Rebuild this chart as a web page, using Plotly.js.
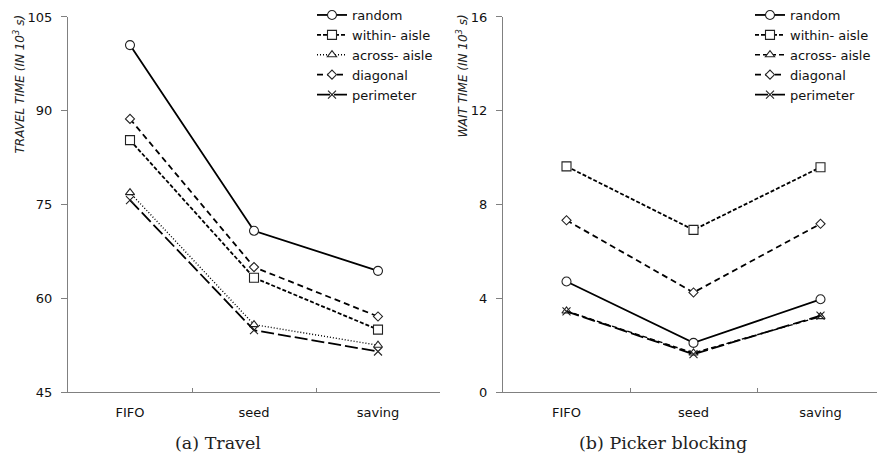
<!DOCTYPE html>
<html>
<head>
<meta charset="utf-8">
<script src="https://cdn.plot.ly/plotly-3.0.1.min.js"></script>
<style>html,body{margin:0;padding:0;background:#fff}#chart{width:877px;height:456px}</style>
</head>
<body>
<div id="chart"></div>
<script>
// ---- data ----
const categories = ['FIFO', 'seed', 'saving'];
const seriesNames = ['random', 'within- aisle', 'across- aisle', 'diagonal', 'perimeter'];

// Travel time (10^3 s)
const travelRandom   = [100.5, 70.8, 64.4];
const travelWithin   = [85.3, 63.3, 55.0];
const travelAcross   = [76.9, 55.8, 52.5];
const travelDiagonal = [88.7, 65.0, 57.1];
const travelPerim    = [75.7, 54.9, 51.5];

// Wait time (10^3 s)
const waitRandom   = [4.72, 2.10, 3.96];
const waitWithin   = [9.63, 6.92, 9.59];
const waitAcross   = [3.46, 1.67, 3.22];
const waitDiagonal = [7.33, 4.25, 7.18];
const waitPerim    = [3.44, 1.62, 3.26];

const travelSeries = [travelRandom, travelWithin, travelAcross, travelDiagonal, travelPerim];
const waitSeries   = [waitRandom, waitWithin, waitAcross, waitDiagonal, waitPerim];

// ---- styles ----
const symbols = ['circle', 'square', 'triangle-up', 'diamond', 'x-thin-open'];
const markerFill = ['#fff', '#fff', '#fff', '#fff', '#222'];
const markerSizes = [9, 9, 8, 7, 8];
const dashLeft  = ['solid', '4px,2px', '1px,2px', '6px,4px', '13px,4px'];
const dashRight = ['solid', '4px,2px', '5px,3px', '6px,4px', '13px,4px'];
const lineWidths = [1.8, 1.8, 1.4, 1.8, 1.8];

function makeTrace(name, i, ys, dash, xa, ya, lg) {
  return {
    x: categories, y: ys, name: name, type: 'scatter', mode: 'lines+markers',
    xaxis: xa, yaxis: ya, legend: lg, cliponaxis: false,
    line: {color: '#000', width: lineWidths[i], dash: dash},
    marker: {symbol: symbols[i], size: markerSizes[i], color: markerFill[i],
             line: {width: 1.1, color: '#222'}}
  };
}
const traces = [];
seriesNames.forEach((name, i) => traces.push(makeTrace(name, i, travelSeries[i], dashLeft[i], 'x', 'y', 'legend')));
seriesNames.forEach((name, i) => traces.push(makeTrace(name, i, waitSeries[i], dashRight[i], 'x2', 'y2', 'legend2')));

const W = 877, H = 456;
const axisCommon = {
  showline: true, linecolor: '#808080', linewidth: 1, showgrid: false, zeroline: false,
  tickcolor: '#808080', tickfont: {family: 'DejaVu Sans', size: 13, color: '#111'}
};
const yTop = 1 - 16 / H, yBot = 1 - 392 / H;
const legendFont = {family: 'DejaVu Sans', size: 13, color: '#111'};

const layout = {
  width: W, height: H,
  margin: {l: 0, r: 0, t: 0, b: 0},
  paper_bgcolor: '#fff', plot_bgcolor: '#fff',
  font: {family: 'DejaVu Sans', color: '#111'},
  xaxis: Object.assign({}, axisCommon, {
    domain: [68 / W, 440 / W], type: 'category', range: [-0.5, 2.5],
    tickson: 'boundaries', ticks: 'inside', ticklen: 4, ticklabelstandoff: 8, anchor: 'y'
  }),
  yaxis: Object.assign({}, axisCommon, {
    domain: [yBot, yTop], range: [45, 105], dtick: 15, tick0: 45,
    ticks: 'outside', ticklen: 6, ticklabelstandoff: 6, anchor: 'x'
  }),
  xaxis2: Object.assign({}, axisCommon, {
    domain: [503 / W, 1], type: 'category', range: [-0.5, 2.5 - 7 / 127],
    tickson: 'boundaries', ticks: 'inside', ticklen: 4, ticklabelstandoff: 8, anchor: 'y2'
  }),
  yaxis2: Object.assign({}, axisCommon, {
    domain: [yBot, yTop], range: [0, 16], dtick: 4, tick0: 0,
    ticks: 'outside', ticklen: 6, ticklabelstandoff: 6, anchor: 'x2'
  }),
  legend: {
    x: 312 / W, xanchor: 'left', y: 1 + 1 / H, yanchor: 'top',
    bgcolor: 'rgba(0,0,0,0)', font: legendFont, itemwidth: 30
  },
  legend2: {
    x: 750 / W, xanchor: 'left', y: 1 + 1 / H, yanchor: 'top',
    bgcolor: 'rgba(0,0,0,0)', font: legendFont, itemwidth: 30
  },
  annotations: [
    {text: 'TRAVEL TIME (IN 10<sup>3</sup> s)', xref: 'paper', yref: 'paper',
     x: 19 / W, xanchor: 'center', y: 1 - 12 / H, yanchor: 'top', textangle: -90, showarrow: false,
     font: {family: 'DejaVu Sans', size: 12, color: '#222', style: 'italic'}},
    {text: 'WAIT TIME (IN 10<sup>3</sup> s)', xref: 'paper', yref: 'paper',
     x: 462 / W, xanchor: 'center', y: 1 - 12 / H, yanchor: 'top', textangle: -90, showarrow: false,
     font: {family: 'DejaVu Sans', size: 12, color: '#222', style: 'italic'}},
    {text: '(a) Travel', xref: 'paper', yref: 'paper', x: 218 / W, xanchor: 'center',
     y: 1 - 443 / H, yanchor: 'middle', showarrow: false,
     font: {family: 'DejaVu Serif', size: 17.5, color: '#222'}},
    {text: '(b) Picker blocking', xref: 'paper', yref: 'paper', x: 663 / W, xanchor: 'center',
     y: 1 - 443 / H, yanchor: 'middle', showarrow: false,
     font: {family: 'DejaVu Serif', size: 17.5, color: '#222'}}
  ]
};

Plotly.newPlot('chart', traces, layout, {displayModeBar: false, staticPlot: true});
</script>
</body>
</html>
